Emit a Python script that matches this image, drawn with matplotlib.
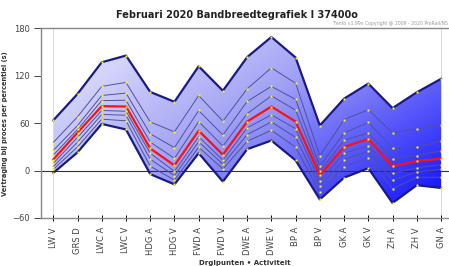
import matplotlib
matplotlib.use("Agg")
import matplotlib.pyplot as plt
import numpy as np
from matplotlib.colors import LinearSegmentedColormap

categories = ["LW V", "GRS D", "LWC A", "LWC V", "HDG A", "HDG V", "FWD A", "FWD V",
              "DWE A", "DWE V", "BP A", "BP V", "GK A", "GK V", "ZH A", "ZH V", "GN A"]

# percentile lines, top (max) to bottom (min); p50 is the red one
p_max = [63.5, 97, 137, 145.5, 99.5, 87, 132, 101, 143.5, 169, 143, 57, 91, 110, 79, 99, 116]
p_a   = [35.5, 68, 106.5, 111.5, 61.5, 49, 95, 62.5, 103.5, 130, 110.5, 18.5, 64.5, 77, 47.5, 53, 58]
p_b   = [25.5, 57, 95, 98, 46.5, 29, 76, 45, 87.5, 106.5, 90, 5.5, 47.5, 61, 28, 30, 37]
p_c   = [19.5, 52, 88.5, 89, 36, 15.5, 62, 31, 72, 94.5, 76.5, -1, 38.5, 47.5, 14.5, 19, 25]
p_50  = [14, 48, 81.5, 81, 28, 6.5, 50.5, 20, 62, 81, 62, -6, 30, 40, 5.5, 12, 15]
p_d   = [9, 42, 76, 75, 22, -1, 43, 13, 54, 70.5, 53, -13.5, 22, 31.5, -3, 3.5, 7.5]
p_e   = [5, 36, 71, 70, 14.5, -6.5, 36.5, 8, 45.5, 61.5, 42, -20, 14, 24.5, -12, -2, 1.5]
p_f   = [1.5, 30, 65, 63, 5.5, -12, 29.5, 2, 37, 51, 29.5, -27.5, 5, 16, -23, -8.5, -8.5]
p_min = [-3, 23, 59, 52, -4.5, -17.5, 22, -14, 27, 38, 13, -36.5, -9, 3, -41, -18.5, -22]

inner = [p_a, p_b, p_c, p_d, p_e, p_f]
x = np.arange(len(categories))

fig = plt.figure(figsize=(4.49, 2.66), dpi=100)
ax = fig.add_axes([0.0906, 0.1805, 0.9094, 0.7131])
ax.set_xlim(-0.52, 16.33)
ax.set_ylim(-60, 180)

# gradient fill between min and max
band = ax.fill_between(x, p_min, p_max, facecolor="none", edgecolor="none")
cmap = LinearSegmentedColormap.from_list("band", ["#f4f4ff", "#a0a0f5", "#1010ff"])
gx, gy = np.meshgrid(np.linspace(0, 1, 300), np.linspace(0, 1, 200))
grad = 0.65 * gx + 0.45 * gy
img = ax.imshow(grad, cmap=cmap, extent=[-0.52, 16.33, -60, 180], origin="upper",
                aspect="auto", vmin=0, vmax=1.05, zorder=1)
img.set_clip_path(band.get_paths()[0], transform=ax.transData)

ax.axvline(x[0], color="#d4d4ff", lw=0.7, zorder=1.5)
ax.axvline(x[-1], color="#d4d4ff", lw=0.7, zorder=1.5)
ax.axhline(0, color="#333333", lw=0.8, zorder=2)

for s in inner:
    ax.plot(x, s, color="#50509e", lw=0.7, zorder=3)
ax.plot(x, p_max, color="#1a1a85", lw=1.6, zorder=4)
ax.plot(x, p_min, color="#1a1a85", lw=1.6, zorder=4)
ax.plot(x, p_50, color="#ff1010", lw=1.6, zorder=5)

for s in [p_max] + inner + [p_50, p_min]:
    ax.plot(x, s, ls="none", marker="s", ms=1.6, mfc="#ffff00", mec="none", zorder=6)

ax.set_yticks([-60, 0, 60, 120, 180])
ax.set_xticks(x)
ax.set_xticklabels(categories, rotation=90, fontsize=6, color="#444444")
ax.tick_params(axis="y", labelsize=6, colors="#444444", length=5, width=0.7, pad=3)
ax.tick_params(axis="x", direction="inout", length=5, width=0.7, pad=4)
for side in ["left", "bottom", "top"]:
    ax.spines[side].set_color("#888888")
    ax.spines[side].set_linewidth(1.0)
ax.spines["right"].set_visible(False)

ax.set_ylabel("Vertraging bij proces per percentiel (s)", fontsize=4.8,
              fontweight="bold", color="#333333", labelpad=3)
ax.set_xlabel("Drglpunten • Activiteit", fontsize=5, fontweight="bold",
              color="#333333", labelpad=3)

fig.text(0.528, 0.943, "Februari 2020 Bandbreedtegrafiek I 37400o", ha="center",
         va="center", fontsize=7, fontweight="bold", color="#222222")
fig.text(0.998, 0.912, "Trento v1.99v Copyright @ 2009 - 2020 ProRail/NS", ha="right",
         va="center", fontsize=3.3, color="#999999")

fig.savefig("out.png", dpi=100)
